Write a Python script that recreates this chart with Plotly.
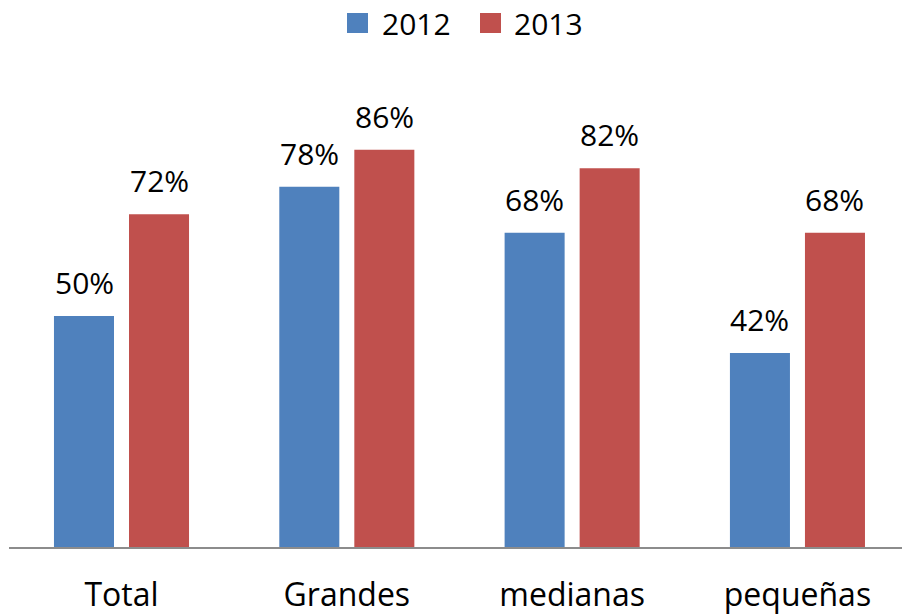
import plotly.graph_objects as go

categories = ["Total", "Grandes", "medianas", "pequeñas"]
series_names = ["2012", "2013"]
values_2012 = [50, 78, 68, 42]
values_2013 = [72, 86, 82, 68]
colors = ["#4F81BD", "#C0504D"]

W, H = 902, 614
ML, MR, MT, MB = 9, 0, 60, 67
PW, PH = W - ML - MR, H - MT - MB
FONT = "Open Sans"

def px_x(p):
    return (p - ML) / PW

def px_y(p):
    return (H - MB - p) / PH

fig = go.Figure()
for name, vals, col in zip(series_names, [values_2012, values_2013], colors):
    fig.add_trace(go.Bar(x=categories, y=vals, name=name, marker_color=col,
                         marker_line_width=0, showlegend=False))

# data labels
for i, (vals, shift) in enumerate(zip([values_2012, values_2013], [-37.5, 37.5])):
    for c, v in zip(categories, vals):
        fig.add_annotation(x=c, y=v, text=f"{v}%", showarrow=False, xref="x", yref="y",
                           xshift=shift, yanchor="bottom", yshift=11,
                           font=dict(family=FONT, size=30, color="#000000"))

# custom legend
leg = [(347, 368, 380), (480, 501, 512)]
for (x0, x1, tx), name, col in zip(leg, series_names, colors):
    fig.add_shape(type="rect", xref="paper", yref="paper",
                  x0=px_x(x0), x1=px_x(x1), y0=px_y(33), y1=px_y(13),
                  fillcolor=col, line_width=0)
    fig.add_annotation(xref="paper", yref="paper", x=px_x(tx), y=px_y(23),
                       xanchor="left", yanchor="middle", showarrow=False, text=name,
                       font=dict(family=FONT, size=30, color="#000000"))

fig.update_layout(
    width=W, height=H,
    margin=dict(l=ML, r=MR, t=MT, b=MB, autoexpand=False),
    plot_bgcolor="white", paper_bgcolor="white",
    barmode="group", bargap=0.334, bargroupgap=0.2,
    font=dict(family=FONT, color="#000000"),
    xaxis=dict(type="category", range=[-0.4993, 3.464], showline=True,
               linecolor="#8C8C8C", linewidth=2, ticks="", ticklabelstandoff=19,
               automargin=False,
               tickfont=dict(family=FONT, size=32, color="#000000"), fixedrange=True),
    yaxis=dict(range=[0, PH / 462 * 100], visible=False, showgrid=False, zeroline=False,
               automargin=False, fixedrange=True),
)

fig.write_html("out.html", config={"displayModeBar": False},
               post_script="document.body.style.margin='0';document.body.style.overflow='hidden';")
